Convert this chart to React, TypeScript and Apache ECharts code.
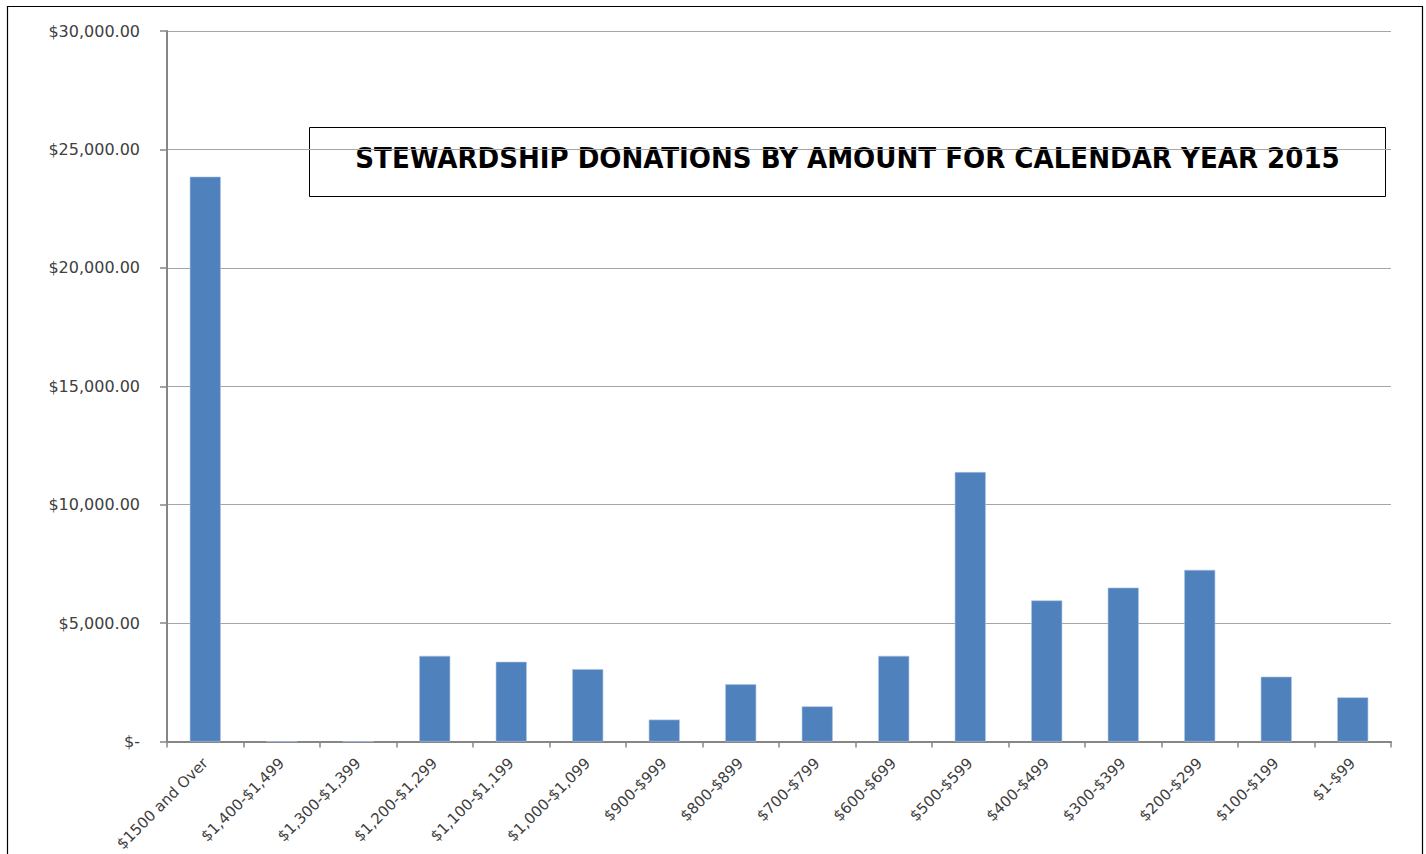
import React, { useEffect, useRef } from "react";
import * as echarts from "echarts";

const categories = [
  "$1500 and Over",
  "$1,400-$1,499",
  "$1,300-$1,399",
  "$1,200-$1,299",
  "$1,100-$1,199",
  "$1,000-$1,099",
  "$900-$999",
  "$800-$899",
  "$700-$799",
  "$600-$699",
  "$500-$599",
  "$400-$499",
  "$300-$399",
  "$200-$299",
  "$100-$199",
  "$1-$99",
];

const donations = [
  23850, 0, 0, 3620, 3370, 3060, 930, 2420, 1490, 3620, 11380, 5960, 6500,
  7250, 2740, 1870,
];

const yTicks = [0, 5000, 10000, 15000, 20000, 25000, 30000];

const titleText = "STEWARDSHIP DONATIONS BY AMOUNT FOR CALENDAR YEAR 2015";

function fmt(v: number): string {
  if (v === 0) return "$-";
  return (
    "$" +
    v.toLocaleString("en-US", { minimumFractionDigits: 2, maximumFractionDigits: 2 })
  );
}

export default function App() {
  const ref = useRef<HTMLDivElement>(null);
  useEffect(() => {
    if (!ref.current) return;
    const chart = echarts.init(ref.current, undefined, { renderer: "svg" });
    chart.setOption({
      animation: false,
      backgroundColor: "#ffffff",
      grid: { left: 167, right: 35, top: 31, bottom: 111, containLabel: false },
      xAxis: {
        type: "category",
        data: categories,
        axisLine: { show: true, lineStyle: { color: "#868686", width: 2 } },
        axisTick: { show: true, alignWithLabel: false, length: 6, lineStyle: { color: "#868686", width: 1.5 } },
        axisLabel: {
          rotate: 45,
          interval: 0,
          color: "#404040",
          fontFamily: "DejaVu Sans",
          fontSize: 15,
          margin: 19,
        },
      },
      yAxis: {
        type: "value",
        min: yTicks[0],
        max: yTicks[yTicks.length - 1],
        interval: 5000,
        axisLine: { show: true, lineStyle: { color: "#868686", width: 2 } },
        axisTick: { show: true, length: 7, lineStyle: { color: "#868686", width: 1.5 } },
        splitLine: { show: true, lineStyle: { color: "#a6a6a6", width: 1 } },
        axisLabel: {
          formatter: (v: number) => fmt(v),
          color: "#404040",
          fontFamily: "DejaVu Sans",
          fontSize: 16,
          margin: 27,
        },
      },
      series: [
        {
          type: "bar",
          data: donations,
          barWidth: 31,
          itemStyle: { color: "#4F81BD", borderColor: "#a9c1e0", borderWidth: 0.6 },
        },
      ],
      graphic: [
        {
          type: "rect",
          left: 5,
          top: 4,
          shape: { width: 1415, height: 860 },
          style: { fill: "none", stroke: "#000000", lineWidth: 1.2 },
          silent: true,
        },
        {
          type: "group",
          left: 309,
          top: 127,
          children: [
            {
              type: "rect",
              shape: { x: 0, y: 0, width: 1076, height: 69 },
              style: { fill: "#ffffff", stroke: "#000000", lineWidth: 1 },
            },
            {
              type: "text",
              x: 538,
              y: 30,
              style: {
                text: titleText,
                fill: "#000000",
                font: "bold 29px 'DejaVu Sans Condensed', 'DejaVu Sans', sans-serif",
                align: "center",
                verticalAlign: "middle",
              },
            },
          ],
        },
      ],
    });
    return () => chart.dispose();
  }, []);
  return (
    <div
      ref={ref}
      style={{ position: "fixed", left: 0, top: 0, width: 1426, height: 854 }}
    />
  );
}
